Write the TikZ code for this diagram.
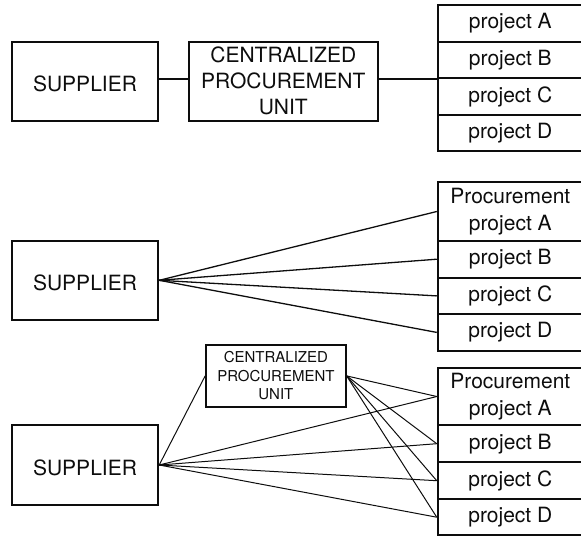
\documentclass[tikz,border=0pt]{standalone}
\usepackage{fontspec}
\setmainfont{TeX Gyre Heros}
\usepackage{tikz}
\usetikzlibrary{positioning}

\begin{document}
\begin{tikzpicture}[
        x=1pt, y=-1pt,
        every node/.style={
            draw=black!95,
            line width=1.8pt,
            inner sep=0pt,
            text=black!95,
            font=\fontsize{21}{26}\selectfont
        },
        supplier/.style={minimum width=146.6pt, minimum height=79.3pt, text height=21pt, text depth=0pt},
        unit/.style={align=center},
        proj/.style={minimum width=145.3pt, align=center, font=\fontsize{21}{27}\selectfont},
        link/.style={draw=black!95, line width=1.3pt},
        fan/.style={draw=black!95, line width=1pt}
    ]
        \useasboundingbox (0,0) rectangle (581,536);
        \clip (0,0) rectangle (581,536);

        % Centralized unit in between
        \node[supplier] (sup1) at (85,81.3) {SUPPLIER};
        \node[unit, minimum width=189.3pt, minimum height=79.3pt] (cpu1) at (283.3,81.3) {CENTRALIZED\\PROCUREMENT\\UNIT};
        \node[proj, minimum height=37pt] (pA1) at (510.3,23.2) {project A};
        \node[proj, minimum height=36.3pt] (pB1) at (510.3,59.8) {project B};
        \node[proj, minimum height=37pt] (pC1) at (510.3,96.5) {project C};
        \node[proj, minimum height=36pt] (pD1) at (510.3,133) {project D};

        \draw[link] (sup1.east |- pB1.south) -- (cpu1.west |- pB1.south);
        \draw[link] (cpu1.east |- pB1.south) -- (pB1.south west);

        % Direct supply of every project
        \node[supplier] (sup2) at (85,280.3) {SUPPLIER};
        \node[proj, minimum height=58.4pt] (pA2) at (510.3,211.5) {Procurement\\project A};
        \node[proj, minimum height=37pt] (pB2) at (510.3,259.2) {project B};
        \node[proj, minimum height=36.3pt] (pC2) at (510.3,295.9) {project C};
        \node[proj, minimum height=36.7pt] (pD2) at (510.3,332.4) {project D};

        \draw[link] (sup2.east) -- (pA2.west);
        \draw[link] (sup2.east) -- (pB2.west);
        \draw[link] (sup2.east) -- (pC2.west);
        \draw[link] (sup2.east) -- (pD2.west);

        % Mixed case
        \node[unit, minimum width=139.7pt, minimum height=61.7pt, font=\fontsize{15}{18.5}\selectfont] (cpu3) at (275.9,375.9) {CENTRALIZED\\PROCUREMENT\\UNIT};
        \node[supplier] (sup3) at (85,465) {SUPPLIER};
        \node[proj, minimum height=57.6pt] (pA3) at (510.3,396.5) {Procurement\\project A};
        \node[proj, minimum height=36.7pt] (pB3) at (510.3,443.7) {project B};
        \node[proj, minimum height=37.3pt] (pC3) at (510.3,480.7) {project C};
        \node[proj, minimum height=35.7pt] (pD3) at (510.3,517.2) {project D};

        \draw[fan] (sup3.east) -- (cpu3.west);
        \draw[fan] (sup3.east) -- (pA3.west);
        \draw[fan] (sup3.east) -- (pB3.west);
        \draw[fan] (sup3.east) -- (pC3.west);
        \draw[fan] (sup3.east) -- (pD3.west);
        \draw[fan] (cpu3.east) -- (pA3.west);
        \draw[fan] (cpu3.east) -- (pB3.west);
        \draw[fan] (cpu3.east) -- (pC3.west);
        \draw[fan] (cpu3.east) -- (pD3.west);
    \end{tikzpicture}
\end{document}
